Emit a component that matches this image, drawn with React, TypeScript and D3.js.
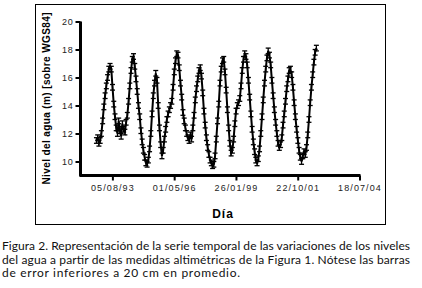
import * as React from 'react';
import * as d3 from 'd3';

// sampling of the altimetry series: every 20 days from the first pass
const firstPass = '1992-11-20';
const stepDays = 20;

// water level (m, above WGS84)
const nivel = [
  11.5, 11.7, 11.3, 11.5, 12.0, 12.9, 13.9, 14.7, 15.4, 16.0,
  16.6, 16.8, 16.6, 15.3, 14.1, 13.2, 12.4, 12.0, 12.9, 12.2,
  11.8, 12.7, 12.3, 12.1, 12.8, 13.3, 14.3, 15.4, 16.5, 17.3,
  17.5, 16.8, 15.9, 15.0, 14.0, 13.2, 12.2, 11.4, 10.8, 10.3,
  9.9, 9.8, 10.1, 10.9, 12.0, 13.4, 14.7, 15.6, 16.3, 15.8,
  14.0, 12.4, 11.2, 10.4, 10.8, 11.6, 12.3, 13.0, 13.4, 13.7,
  14.0, 14.3, 15.3, 16.4, 17.2, 17.7, 17.6, 16.7, 15.6, 14.6,
  13.5, 12.9, 12.4, 12.0, 11.7, 11.5, 11.9, 11.6, 12.4, 13.3,
  14.4, 15.2, 15.9, 16.5, 16.7, 16.1, 14.9, 13.6, 12.6, 11.7,
  11.0, 10.5, 10.1, 9.9, 9.7, 9.8, 10.4, 11.6, 12.9, 14.1,
  15.6, 16.6, 17.2, 17.3, 16.4, 15.1, 13.7, 12.4, 11.3, 10.6,
  10.8, 11.6, 12.7, 13.6, 14.0, 14.2, 14.5, 15.4, 16.5, 17.3,
  17.7, 17.5, 16.9, 15.8, 14.6, 13.4, 12.3, 11.4, 10.7, 10.1,
  9.9, 10.2, 10.9, 12.0, 13.2, 14.4, 15.6, 16.6, 17.4, 17.9,
  17.6, 16.9, 15.8, 14.7, 13.7, 12.8, 12.0, 11.3, 11.0, 11.2,
  11.7, 12.6, 13.4, 14.3, 15.2, 15.9, 16.5, 16.6, 16.2, 15.3,
  14.2, 13.2, 12.3, 11.5, 10.8, 10.3, 10.0, 10.4, 10.7, 10.5,
  11.0, 11.9, 13.0, 14.2, 15.3, 16.2, 17.1, 17.8, 18.1,
];

// error bars: below 20 cm on average
const error = 0.2;

const xTickLabels = ['05/08/93', '01/05/96', '26/01/99', '22/10/01', '18/07/04'];
const yTickValues = [10, 12, 14, 16, 18, 20];

const caption = [
  'Figura 2. Representación de la serie temporal de las variaciones de los niveles',
  'del agua a partir de las medidas altimétricas de la Figura 1. Nótese las barras',
  'de error inferiores a 20 cm en promedio.',
];

const parseDMY = d3.timeParse('%d/%m/%y');

export default function App() {
  const nodeRef = React.useRef(null);

  React.useEffect(() => {
    const root = d3.select(nodeRef.current);
    root.selectAll('*').remove();

    const svg = root
      .append('svg')
      .attr('width', 422)
      .attr('height', 288)
      .style('position', 'absolute')
      .style('left', 0)
      .style('top', 0)
      .style('background', '#fff');

    // figure frame
    svg
      .append('rect')
      .attr('x', 35.5)
      .attr('y', 4.5)
      .attr('width', 350)
      .attr('height', 220)
      .attr('fill', 'none')
      .attr('stroke', '#000')
      .attr('stroke-width', 1);

    const start = d3.timeParse('%Y-%m-%d')(firstPass);
    const data = nivel.map((v, i) => ({ date: d3.timeDay.offset(start, i * stepDays), value: v }));
    const tickDates = xTickLabels.map(s => parseDMY(s));

    const x = d3
      .scaleTime()
      .domain([d3.timeDay.offset(tickDates[0], -500), tickDates[tickDates.length - 1]])
      .range([81.5, 359.5]);

    const y = d3.scaleLinear().domain([9, 20]).range([175.5, 21.5]);

    const g = svg.append('g');

    // axes as one thick path with a rounded corner
    g.append('path')
      .attr('d', `M${x.range()[0] - 1},${y(20)}V${y(9)}H${x.range()[1] + 1}`)
      .attr('fill', 'none')
      .attr('stroke', '#000')
      .attr('stroke-width', 3)
      .attr('stroke-linejoin', 'round');

    const yAxis = g
      .append('g')
      .attr('transform', `translate(${x.range()[0] - 1},0)`)
      .call(d3.axisLeft(y).tickValues(yTickValues).tickSize(5).tickSizeOuter(0).tickPadding(2));
    yAxis.select('.domain').remove();
    yAxis.selectAll('.tick line').attr('stroke-width', 2);
    yAxis
      .selectAll('.tick text')
      .attr('font-family', 'Liberation Sans, Arial, sans-serif')
      .attr('font-size', 9)
      .attr('letter-spacing', 0.8)
      .attr('fill', '#222');

    const xAxis = g
      .append('g')
      .attr('transform', `translate(0,${y(9)})`)
      .call(
        d3
          .axisBottom(x)
          .tickValues(tickDates)
          .tickFormat((d, i) => xTickLabels[i])
          .tickSize(5)
          .tickSizeOuter(0)
          .tickPadding(4)
      );
    xAxis.select('.domain').remove();
    xAxis.selectAll('.tick line').attr('stroke-width', 2);
    xAxis
      .selectAll('.tick text')
      .attr('font-family', 'Liberation Sans, Arial, sans-serif')
      .attr('font-size', 9)
      .attr('letter-spacing', 1.1)
      .attr('fill', '#222');

    // error bars
    const bars = g.append('g').attr('stroke', '#000').attr('stroke-width', 1.3);
    bars
      .selectAll('line.err')
      .data(data)
      .join('line')
      .attr('class', 'err')
      .attr('x1', d => x(d.date))
      .attr('x2', d => x(d.date))
      .attr('y1', d => y(d.value - error))
      .attr('y2', d => y(d.value + error));
    bars
      .selectAll('line.capTop')
      .data(data)
      .join('line')
      .attr('class', 'capTop')
      .attr('x1', d => x(d.date) - 2.5)
      .attr('x2', d => x(d.date) + 2.5)
      .attr('y1', d => y(d.value + error))
      .attr('y2', d => y(d.value + error));
    bars
      .selectAll('line.capBot')
      .data(data)
      .join('line')
      .attr('class', 'capBot')
      .attr('x1', d => x(d.date) - 2.5)
      .attr('x2', d => x(d.date) + 2.5)
      .attr('y1', d => y(d.value - error))
      .attr('y2', d => y(d.value - error));

    // series line
    g.append('path')
      .datum(data)
      .attr('fill', 'none')
      .attr('stroke', '#000')
      .attr('stroke-width', 2)
      .attr(
        'd',
        d3
          .line()
          .x(d => x(d.date))
          .y(d => y(d.value))
      );

    // axis titles
    svg
      .append('text')
      .attr('transform', 'translate(49.5,98.5) rotate(-90)')
      .attr('text-anchor', 'middle')
      .attr('font-family', 'Liberation Sans, Arial, sans-serif')
      .attr('font-weight', 'bold')
      .attr('font-size', 10)
      .attr('textLength', 172)
      .attr('lengthAdjust', 'spacing')
      .text('Nivel del agua (m) [sobre WGS84]');

    svg
      .append('text')
      .attr('x', 223)
      .attr('y', 218)
      .attr('text-anchor', 'middle')
      .attr('font-family', 'Liberation Sans, Arial, sans-serif')
      .attr('font-weight', 'bold')
      .attr('font-size', 12)
      .attr('letter-spacing', 1)
      .text('Día');

    // caption
    const widths = [408, 408, 238];
    svg
      .append('g')
      .selectAll('text')
      .data(caption)
      .join('text')
      .attr('x', 2)
      .attr('y', (d, i) => 250 + i * 13.5)
      .attr('font-family', 'Lato, sans-serif')
      .attr('font-size', 12)
      .attr('fill', '#111')
      .attr('textLength', (d, i) => widths[i])
      .attr('lengthAdjust', 'spacing')
      .text(d => d);
  }, []);

  return <div className="chart" ref={nodeRef}></div>;
}
